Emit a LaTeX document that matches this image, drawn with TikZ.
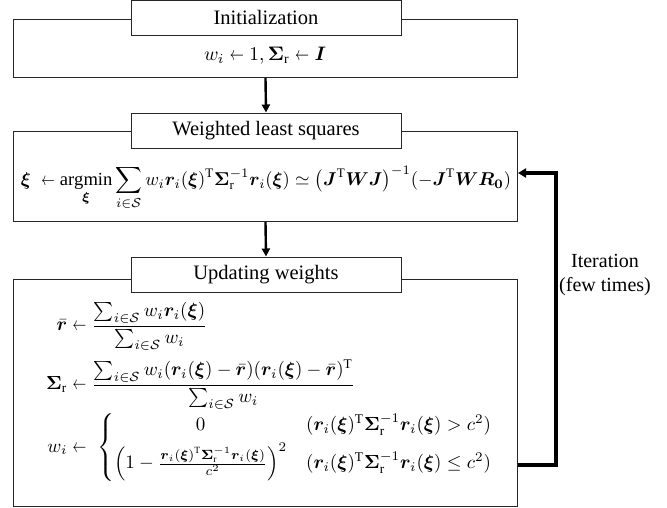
\documentclass[tikz,border=0pt]{standalone}
\usepackage{amsmath,amssymb}
\usepackage{fontspec}
\setmainfont{Liberation Serif}
\usepackage{bm}
\usepackage{graphicx}
\usetikzlibrary{arrows.meta}
\newcommand{\shortla}{\mathrel{\scalebox{0.72}[1]{$\leftarrow$}}}
\newcommand{\rxi}{\bm r_i(\bm\xi)}
\newcommand{\SigR}{\bm\Sigma_{\mathrm r}}
\begin{document}
\begin{tikzpicture}[x=1pt,y=-1pt,
  frame/.style={draw=black!85, line width=1pt, inner sep=0pt, anchor=north west, minimum width=504pt},
  titlebox/.style={draw=black!85, line width=1pt, fill=white, minimum width=270pt, minimum height=35pt, inner sep=0pt, font=\fontsize{20.5}{24}\selectfont},
  flow/.style={line width=2.4pt, -{Triangle[length=8pt,width=8pt]}},
  loopline/.style={line width=3.2pt, line join=miter, -{Triangle[length=8pt,width=9pt]}},
  lbl/.style={font=\fontsize{20}{24}\selectfont, align=center, inner sep=0pt}]
\useasboundingbox (0,0) rectangle (667,507);
% outer boxes
\node[frame, minimum height=58pt] (b1) at (13,19) {};
\node[frame, minimum height=90pt] (b2) at (13,131) {};
\node[frame, minimum height=227pt] (b3) at (13,279) {};
% title boxes
\node[titlebox] (t1) at (266,17.5) {Initialization};
\node[titlebox] (t2) at (266,130.5) {Weighted least squares};
\node[titlebox] (t3) at (266,274.5) {Updating weights};
% contents
\node[inner sep=0pt] (e1) at (265,56) {\resizebox{122pt}{!}{$w_i \shortla 1, \SigR \shortla \bm I$}};
\node[inner sep=0pt] (e2) at (266,188) {\resizebox{490pt}{!}{$\displaystyle
 \bm\xi\;\shortla \operatorname*{argmin}_{\bm\xi}\sum_{i\in\mathcal S} w_i\rxi^{\mathrm T}\SigR^{-1}\rxi\simeq\bigl(\bm J^{\mathrm T}\bm W\bm J\bigr)^{-1}(-\bm J^{\mathrm T}\bm W\bm R_{\bm 0})$}};
\node[inner sep=0pt, anchor=west] (e3) at (46,392) {\resizebox{447pt}{!}{$\displaystyle
 \begin{aligned}
 \bar{\bm r} &\shortla \frac{\sum_{i\in\mathcal S} w_i\rxi}{\sum_{i\in\mathcal S} w_i}\\[1pt]
 \SigR &\shortla \frac{\sum_{i\in\mathcal S} w_i(\rxi-\bar{\bm r})(\rxi-\bar{\bm r})^{\mathrm T}}{\sum_{i\in\mathcal S} w_i}\\[-2pt]
 w_i &\shortla\hspace{3pt}\left\{\begin{array}{@{}c@{\quad}l@{}}
   0 & (\rxi^{\mathrm T}\SigR^{-1}\rxi > c^2)\\[3pt]
   \left(1-\frac{\rxi^{\mathrm T}\SigR^{-1}\rxi}{c^2}\right)^2 & (\rxi^{\mathrm T}\SigR^{-1}\rxi \le c^2)
 \end{array}\right.
 \end{aligned}$}};
% connectors
\draw[flow] (b1.south) -- (t2.north);
\draw[flow] (b2.south) -- (t3.north);
\coordinate (la) at (556,465);
\coordinate (lb) at (556,173);
\draw[loopline] (la -| b3.east) -- (la) -- (lb) -- (lb -| b2.east);
\node[lbl] (it) at (605,275) {Iteration\\(few times)};
\end{tikzpicture}
\end{document}
